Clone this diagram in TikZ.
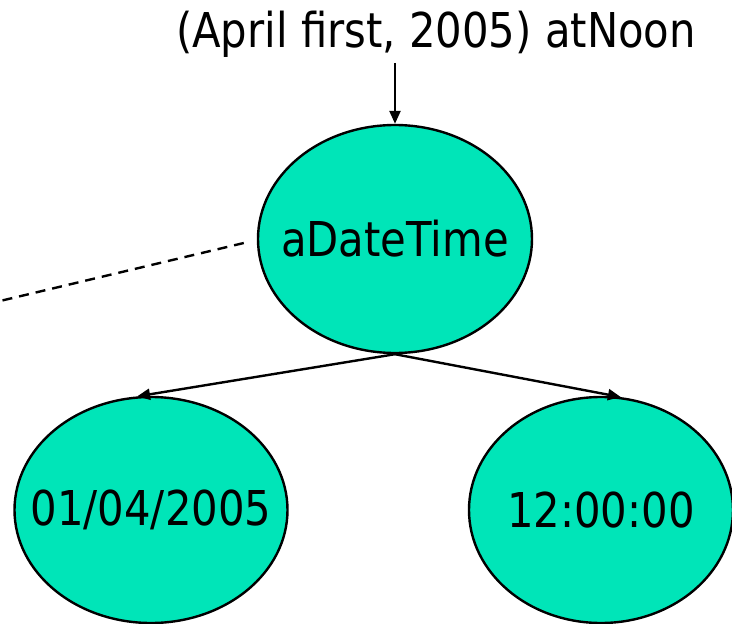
\documentclass[tikz,border=0pt]{standalone}
\usepackage{fontspec}
\setmainfont{DejaVu Sans}[FakeStretch=0.87]
\usepackage{tikz}
\usetikzlibrary{arrows.meta}
\usetikzlibrary{shapes.geometric}
\definecolor{objgreen}{RGB}{0,229,184}

\begin{document}
\begin{tikzpicture}[x=1pt, y=-1pt,
	obj/.style={ellipse, draw, line width=2.4pt, fill=objgreen, inner xsep=-40pt, inner ysep=0pt, font=\fontsize{48}{48}\selectfont},
	>={Triangle[length=13pt, width=11pt]}]
\useasboundingbox (0,0) rectangle (732,624);
\node[font=\fontsize{48}{48}\selectfont] (msg) at (436,34) {(April first, 2005) atNoon};
\node[obj, minimum width=274pt, minimum height=228pt] (dt) at (395,239) {aDateTime};
\node[obj, minimum width=273pt, minimum height=226pt] (day) at (151,510) {01/04/2005};
\node[obj, minimum width=264pt, minimum height=226pt] (time) at (601,510) {12:00:00};
\coordinate (far) at (0,301);
\path[->, line width=2.4pt]
(msg.south -| dt.north) edge[shorten <=2pt] (dt.north)
(dt.south) edge (day.97)
(dt.south) edge (time.80);
\draw[dashed, dash pattern=on 10pt off 7pt, line width=2.4pt] ([xshift=-13pt, yshift=-4pt]dt.west) -- (far);
\end{tikzpicture}
\end{document}
